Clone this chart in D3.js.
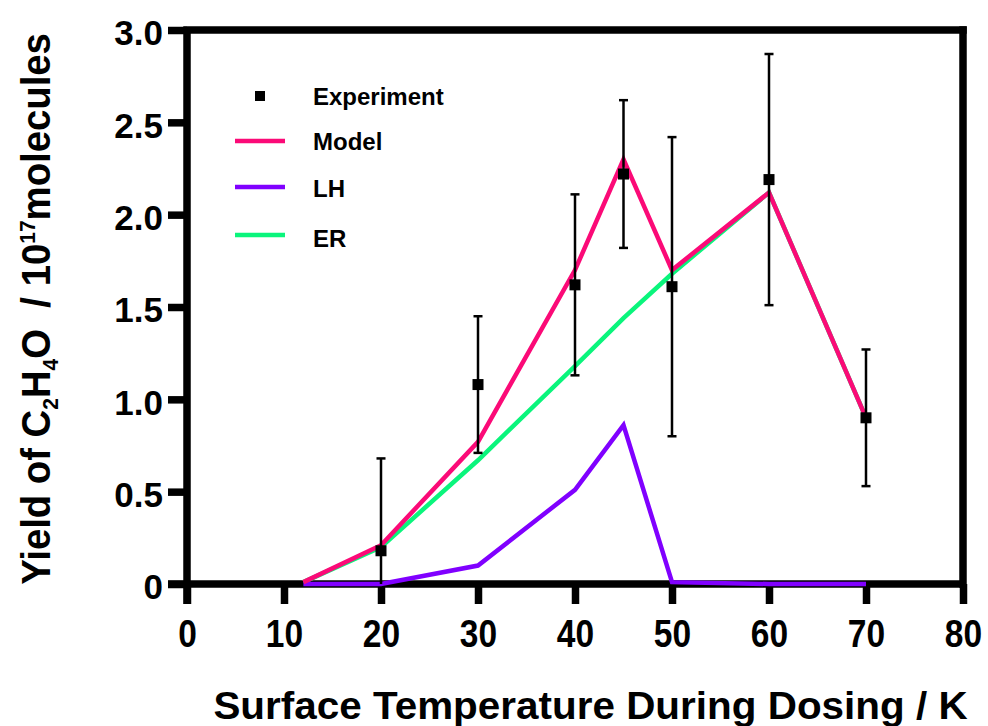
<!DOCTYPE html>
<html>
<head>
<meta charset="utf-8">
<script src="https://cdn.jsdelivr.net/npm/d3@7"></script>
<style>
  html, body { margin: 0; padding: 0; background: #ffffff; }
  svg { display: block; }
  text { font-family: "Liberation Sans", Arial, sans-serif; font-weight: bold; fill: #000; }
</style>
</head>
<body>
<svg id="chart" width="988" height="726"></svg>
<script>
// ---------- data ----------
const expTemps  = [20, 30, 40, 45, 50, 60, 70];
const expYield  = [0.18, 1.08, 1.62, 2.22, 1.61, 2.19, 0.90];
const expError  = [0.50, 0.37, 0.49, 0.40, 0.81, 0.68, 0.37];

const modelTemps = [12, 20, 30, 40, 45, 50, 60, 70];
const modelYield = [0.01, 0.21, 0.77, 1.70, 2.30, 1.70, 2.12, 0.90];
const lhYield    = [0.00, 0.00, 0.10, 0.51, 0.86, 0.01, 0.00, 0.00];
const erYield    = [0.01, 0.20, 0.67, 1.18, 1.44, 1.68, 2.12, 0.90];

const xTicks = [0, 10, 20, 30, 40, 50, 60, 70, 80];
const yTicks = [0, 0.5, 1.0, 1.5, 2.0, 2.5, 3.0];
const yTickLabels = ["0", "0.5", "1.0", "1.5", "2.0", "2.5", "3.0"];

const legendNames = ["Experiment", "Model", "LH", "ER"];
const colors = { Model: "#fb0a77", LH: "#8000ff", ER: "#0af57c" };

// ---------- setup ----------
const svg = d3.select("#chart");
const x = d3.scaleLinear().domain([0, 80]).range([187, 963]);
const y = d3.scaleLinear().domain([0, 3]).range([584, 30]);

function fitWidth(textSel, target) {
  const w = textSel.node().getBBox().width;
  return target / w;
}

// ---------- frame (top & right) ----------
svg.append("line").attr("x1", x(0)).attr("x2", x(80)).attr("y1", y(3)).attr("y2", y(3))
  .attr("stroke", "#000").attr("stroke-width", 7.5).attr("stroke-linecap", "square");
svg.append("line").attr("x1", x(80)).attr("x2", x(80)).attr("y1", y(3)).attr("y2", y(0))
  .attr("stroke", "#000").attr("stroke-width", 7.5).attr("stroke-linecap", "square");

// ---------- axes ----------
const xAxis = d3.axisBottom(x).tickValues(xTicks).tickSize(20).tickSizeOuter(0).tickPadding(16)
  .tickFormat(d => String(d));
const gx = svg.append("g").attr("transform", `translate(0,${y(0)})`).call(xAxis);
gx.select(".domain").attr("stroke", "#000").attr("stroke-width", 7.5)
  .attr("d", `M${x(0) - 19},0H${x(80)}`);
gx.selectAll(".tick line").attr("stroke", "#000").attr("stroke-width", 7.5);
gx.selectAll(".tick text").attr("font-size", 39).attr("font-family", "Liberation Sans, Arial, sans-serif")
  .attr("font-weight", "bold").attr("fill", "#000")
  .attr("y", 0).attr("dy", "0.71em")
  .attr("transform", "translate(0,35) scale(0.86,1)");

const yAxis = d3.axisLeft(y).tickValues(yTicks).tickSize(19).tickSizeOuter(0).tickPadding(5)
  .tickFormat((d, i) => yTickLabels[i]);
const gy = svg.append("g").attr("transform", `translate(${x(0)},0)`).call(yAxis);
gy.select(".domain").attr("stroke", "#000").attr("stroke-width", 7.5)
  .attr("d", `M0,${y(3)}V${y(0) + 20}`);
gy.selectAll(".tick line").attr("stroke", "#000").attr("stroke-width", 7.5);
gy.selectAll(".tick text").attr("font-size", 35).attr("font-family", "Liberation Sans, Arial, sans-serif")
  .attr("font-weight", "bold").attr("fill", "#000").attr("dy", "0.42em");

// ---------- lines ----------
const lineGen = vals => d3.line().x((d, i) => x(modelTemps[i])).y(d => y(d))(vals);
[["ER", erYield], ["LH", lhYield], ["Model", modelYield]].forEach(([name, vals]) => {
  svg.append("path").attr("d", lineGen(vals)).attr("fill", "none")
    .attr("stroke", colors[name]).attr("stroke-width", 4.5).attr("stroke-linejoin", "miter");
});

// ---------- error bars & markers ----------
const eb = svg.append("g");
expTemps.forEach((t, i) => {
  const lo = Math.max(0, expYield[i] - expError[i]);
  const hi = expYield[i] + expError[i];
  eb.append("line").attr("x1", x(t)).attr("x2", x(t)).attr("y1", y(lo)).attr("y2", y(hi))
    .attr("stroke", "#000").attr("stroke-width", 2.5);
  eb.append("line").attr("x1", x(t) - 4.5).attr("x2", x(t) + 4.5).attr("y1", y(hi)).attr("y2", y(hi))
    .attr("stroke", "#000").attr("stroke-width", 2.5);
  if (expYield[i] - expError[i] > 0) {
    eb.append("line").attr("x1", x(t) - 4.5).attr("x2", x(t) + 4.5).attr("y1", y(lo)).attr("y2", y(lo))
      .attr("stroke", "#000").attr("stroke-width", 2.5);
  }
  eb.append("rect").attr("x", x(t) - 5.5).attr("y", y(expYield[i]) - 5.5)
    .attr("width", 11).attr("height", 11).attr("fill", "#000");
});

// ---------- legend ----------
const legY = [96, 141, 187, 235];
const legBase = [105, 150, 197, 247];
const leg = svg.append("g");
legendNames.forEach((name, i) => {
  if (name === "Experiment") {
    leg.append("rect").attr("x", 260 - 5).attr("y", legY[i] - 5).attr("width", 10).attr("height", 10).attr("fill", "#000");
  } else {
    leg.append("line").attr("x1", 235).attr("x2", 285).attr("y1", legY[i]).attr("y2", legY[i])
      .attr("stroke", colors[name]).attr("stroke-width", 4.5);
  }
  leg.append("text").attr("x", 313).attr("y", legBase[i]).attr("font-size", 24).text(name);
});

// ---------- axis titles ----------
const xt = svg.append("text").attr("x", 0).attr("y", 0).attr("text-anchor", "middle")
  .attr("font-size", 38).text("Surface Temperature During Dosing / K");
const sx = fitWidth(xt, 755);
xt.attr("transform", `translate(590.5,719) scale(${sx},1)`);

const yg = svg.append("g").attr("transform", "translate(50,309) rotate(-90)");
const yt = yg.append("text").attr("text-anchor", "middle").attr("font-size", 40)
  .style("white-space", "pre");
yt.append("tspan").text("Yield of C");
yt.append("tspan").attr("font-size", 22).attr("dy", 8).text("2");
yt.append("tspan").attr("dy", -8).text("H");
yt.append("tspan").attr("font-size", 22).attr("dy", 8).text("4");
yt.append("tspan").attr("dy", -8).text("O  / 10");
yt.append("tspan").attr("font-size", 22).attr("dy", -15).text("17");
yt.append("tspan").attr("dy", 15).text("molecules");
const sy = fitWidth(yt, 552);
yt.attr("transform", `scale(${sy},1)`);
</script>
</body>
</html>
